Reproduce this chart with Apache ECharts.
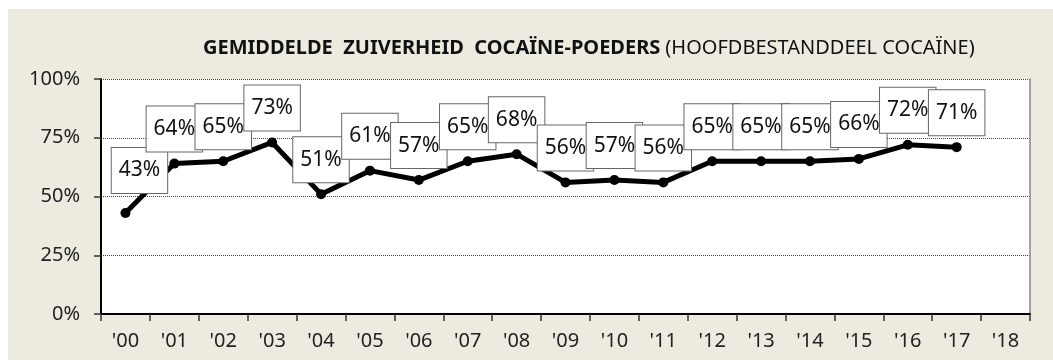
<!DOCTYPE html>
<html>
<head>
<meta charset="utf-8">
<script src="https://cdn.jsdelivr.net/npm/echarts@6/dist/echarts.min.js"></script>
<style>
  html, body { margin: 0; padding: 0; background: #fff; }
  #panel { position: absolute; left: 8px; top: 9px; width: 1045px; height: 351px; background: #edebe0; }
  #chart { width: 100%; height: 100%; }
</style>
</head>
<body>
<div id="panel"><div id="chart"></div></div>
<script>
// zuiverheid cocaine-poeders per jaar
var years = ["'00", "'01", "'02", "'03", "'04", "'05", "'06", "'07", "'08", "'09",
             "'10", "'11", "'12", "'13", "'14", "'15", "'16", "'17", "'18"];
var purity = [43, 64, 65, 73, 51, 61, 57, 65, 68, 56, 57, 56, 65, 65, 65, 66, 72, 71, null];
var yTicks = [0, 25, 50, 75, 100];

var font = 'Noto Sans';
var chart = echarts.init(document.getElementById('chart'));

var points = purity.map(function (v, i) {
  var p = { value: v };
  if (i === 0) {
    p.label = { offset: [14, -8] };
  }
  return p;
});

var option = {
  animation: false,
  title: {
    left: 190,
    top: 24,
    text: '{b|GEMIDDELDE  ZUIVERHEID  COCAÏNE-POEDERS} {r|(HOOFDBESTANDDEEL COCAÏNE)}',
    textStyle: {
      rich: {
        b: { fontFamily: font, fontSize: 20, fontWeight: 'bold', color: '#111' },
        r: { fontFamily: font, fontSize: 20, fontWeight: 'normal', color: '#111' }
      }
    }
  },
  grid: { left: 93, right: 23, top: 70, bottom: 46, show: true, backgroundColor: '#fff', borderWidth: 0 },
  xAxis: {
    type: 'category',
    data: years,
    boundaryGap: true,
    axisLine: { lineStyle: { color: '#000', width: 2 } },
    axisTick: { show: true, length: 7, lineStyle: { color: '#333', width: 1.5 } },
    axisLabel: { fontFamily: font, fontSize: 20, color: '#222', margin: 17 }
  },
  yAxis: [{
    type: 'value',
    min: 0,
    max: 100,
    interval: 25,
    axisLine: { show: true, lineStyle: { color: '#000', width: 2 } },
    axisTick: { show: true, length: 7, lineStyle: { color: '#333', width: 1.5 } },
    axisLabel: {
      fontFamily: font, fontSize: 20, color: '#222', margin: 21,
      formatter: function (v) { return yTicks.indexOf(v) >= 0 ? v + '%' : ''; }
    },
    splitLine: { show: true, lineStyle: { color: '#444', type: [1, 1], width: 1 } }
  }, {
    type: 'value',
    position: 'right',
    min: 0,
    max: 100,
    interval: 25,
    axisLine: { show: true, lineStyle: { color: '#888', width: 1.5 } },
    axisTick: { show: false },
    axisLabel: { show: false },
    splitLine: { show: false }
  }],
  series: [{
    type: 'line',
    data: points,
    symbol: 'circle',
    symbolSize: 10,
    lineStyle: { color: '#000', width: 5 },
    itemStyle: { color: '#000' },
    label: {
      show: true,
      position: 'top',
      distance: 7,
      formatter: '{c}%',
      fontFamily: font,
      fontSize: 21,
      lineHeight: 25,
      color: '#111',
      backgroundColor: '#fff',
      borderColor: '#666',
      borderWidth: 1,
      padding: [10, 7, 10, 7]
    }
  }]
};

chart.setOption(option);
</script>
</body>
</html>
